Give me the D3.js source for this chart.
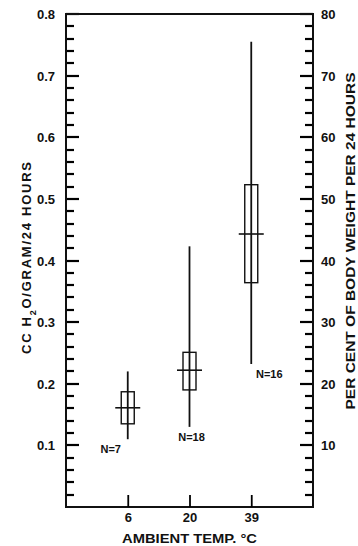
<!DOCTYPE html>
<html>
<head>
<meta charset="utf-8">
<script src="https://cdn.jsdelivr.net/npm/d3@7"></script>
<style>
  body { margin: 0; background: #fff; }
  svg text { font-family: "Liberation Sans", Arial, sans-serif; font-weight: bold; fill: #111; }
</style>
</head>
<body>
<div id="chart"></div>
<script>
// temperatures (deg C) and box stats, cc H2O / gram / 24 h
var temps = ["6", "20", "39"]
var whiskerLow = [0.11, 0.13, 0.232]
var boxLow = [0.135, 0.19, 0.364]
var medians = [0.161, 0.222, 0.443]
var boxHigh = [0.187, 0.251, 0.523]
var whiskerHigh = [0.22, 0.423, 0.755]
var nLabels = ["N=7", "N=18", "N=16"]

var leftTicks = [0.1, 0.2, 0.3, 0.4, 0.5, 0.6, 0.7, 0.8]
var rightTicks = [10, 20, 30, 40, 50, 60, 70, 80]

var w = 358, h = 546
var mLeft = 66, mRight = 313, mTop = 14, mBottom = 507

var svg = d3.select("#chart").append("svg")
  .attr("width", w)
  .attr("height", h)

var x = d3.scaleLinear().domain([0, 4]).range([mLeft, mRight])
var y = d3.scaleLinear().domain([0, 0.8]).range([mBottom, mTop])
var yPct = d3.scaleLinear().domain([0, 80]).range([mBottom, mTop])

// minor ticks every 0.02 (left) and 2 % (right), pointing inward
var minor = d3.range(1, 40).filter(function(i){ return i % 5 != 0 }).map(function(i){ return i * 0.02 })
var minorPct = d3.range(1, 40).filter(function(i){ return i % 5 != 0 }).map(function(i){ return i * 2 })

function tickMarks(vals, scale, x0, len, sw) {
  svg.append("g")
    .selectAll("line").data(vals).enter().append("line")
    .attr("x1", x0).attr("x2", x0 + len)
    .attr("y1", function(d){ return Math.round(scale(d)) })
    .attr("y2", function(d){ return Math.round(scale(d)) })
    .attr("stroke", "#000").attr("stroke-width", sw)
}
tickMarks(minor, y, mLeft, 8, 2.2)
tickMarks(minorPct, yPct, mRight, -8, 2.2)
tickMarks(leftTicks, y, mLeft, 13, 2.2)
tickMarks(rightTicks, yPct, mRight, -13, 2.2)

// frame
svg.append("rect")
  .attr("x", mLeft).attr("y", mTop)
  .attr("width", mRight - mLeft).attr("height", mBottom - mTop)
  .attr("fill", "none").attr("stroke", "#111").attr("stroke-width", 2)

// tick labels
svg.append("g")
  .attr("transform", "translate(" + mLeft + ",0)")
  .call(d3.axisLeft(y).tickValues(leftTicks).tickSize(0).tickPadding(11)
    .tickFormat(function(d){ return d.toFixed(1) }))
  .call(function(g){ g.select(".domain").remove() })
  .selectAll("text").style("font-size", "13px").attr("dy", "0.35em")

svg.append("g")
  .attr("transform", "translate(" + mRight + ",0)")
  .call(d3.axisRight(yPct).tickValues(rightTicks).tickSize(0).tickPadding(8))
  .call(function(g){ g.select(".domain").remove() })
  .selectAll("text").style("font-size", "13px").attr("dy", "0.35em")

// bottom axis
svg.append("g")
  .attr("transform", "translate(0," + mBottom + ")")
  .call(d3.axisBottom(x).tickValues([1, 2, 3]).tickSize(-12).tickPadding(6)
    .tickFormat(function(d){ return temps[d - 1] }))
  .call(function(g){ g.select(".domain").remove() })
  .call(function(g){ g.selectAll(".tick line").attr("stroke", "#000").attr("stroke-width", 1.8) })
  .selectAll("text").style("font-size", "13px").attr("dy", "0.71em")

// boxes
var boxW = 13, medW = 25
var groups = svg.selectAll(".box").data(temps).enter().append("g").attr("class", "box")

groups.append("line")
  .attr("x1", function(d, i){ return x(i + 1) }).attr("x2", function(d, i){ return x(i + 1) })
  .attr("y1", function(d, i){ return y(whiskerLow[i]) })
  .attr("y2", function(d, i){ return y(whiskerHigh[i]) })
  .attr("stroke", "#111").attr("stroke-width", 1.8)

groups.append("rect")
  .attr("x", function(d, i){ return x(i + 1) - boxW / 2 })
  .attr("width", boxW)
  .attr("y", function(d, i){ return y(boxHigh[i]) })
  .attr("height", function(d, i){ return y(boxLow[i]) - y(boxHigh[i]) })
  .attr("fill", "none").attr("stroke", "#111").attr("stroke-width", 1.4)

groups.append("line")
  .attr("x1", function(d, i){ return x(i + 1) - medW / 2 })
  .attr("x2", function(d, i){ return x(i + 1) + medW / 2 })
  .attr("y1", function(d, i){ return y(medians[i]) })
  .attr("y2", function(d, i){ return y(medians[i]) })
  .attr("stroke", "#111").attr("stroke-width", 1.6)

var labelDx = [-17, 2, 18]
groups.append("text")
  .attr("x", function(d, i){ return x(i + 1) + labelDx[i] })
  .attr("y", function(d, i){ return y(whiskerLow[i]) + 14 })
  .attr("text-anchor", "middle")
  .style("font-size", "11px")
  .text(function(d, i){ return nLabels[i] })

// axis titles
svg.append("text")
  .attr("x", (mLeft + mRight) / 2).attr("y", 543)
  .attr("text-anchor", "middle")
  .attr("textLength", 135).attr("lengthAdjust", "spacingAndGlyphs")
  .style("font-size", "13px")
  .text("AMBIENT TEMP. °C")

var lt = svg.append("text")
  .attr("transform", "translate(31,258) rotate(-90)")
  .attr("text-anchor", "middle")
  .attr("textLength", 192).attr("lengthAdjust", "spacing")
  .style("font-size", "13px")
lt.append("tspan").text("CC  H")
lt.append("tspan").attr("baseline-shift", "sub").style("font-size", "9px").text("2")
lt.append("tspan").text("O/GRAM/24 HOURS")

svg.append("text")
  .attr("transform", "translate(355,241) rotate(-90)")
  .attr("text-anchor", "middle")
  .attr("textLength", 337).attr("lengthAdjust", "spacingAndGlyphs")
  .style("font-size", "12px")
  .text("PER CENT OF BODY WEIGHT PER 24 HOURS")
</script>
</body>
</html>
